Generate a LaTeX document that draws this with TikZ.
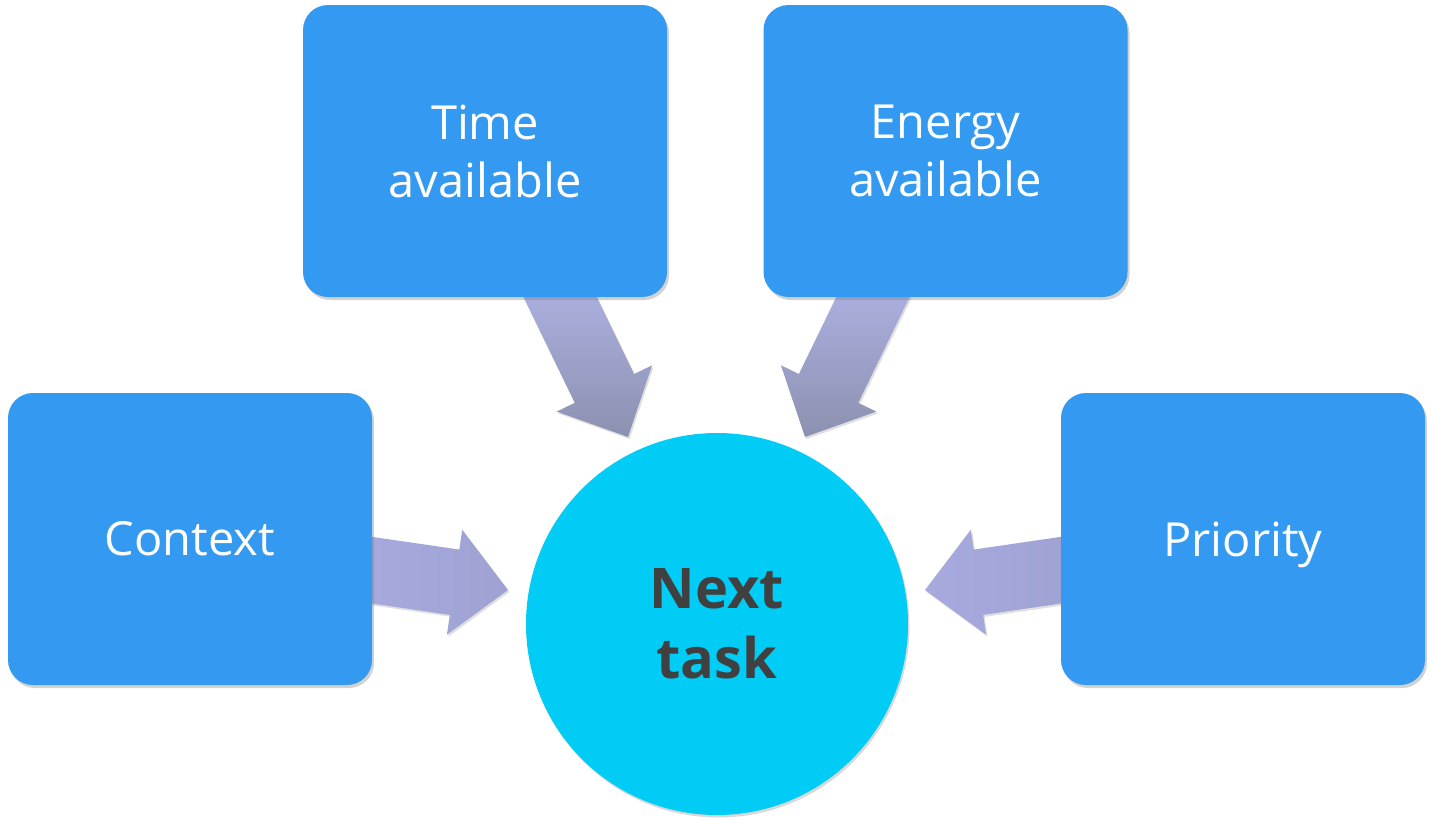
\documentclass[tikz,border=0pt]{standalone}
\usepackage{fontspec}
\setmainfont{Open Sans}
\usetikzlibrary{calc,shadows}
\definecolor{boxblue}{RGB}{52,153,240}
\definecolor{circblue}{RGB}{0,204,245}
\definecolor{txtgray}{RGB}{64,64,64}
\definecolor{arrowtop}{RGB}{176,180,230}
\definecolor{arrowbot}{RGB}{140,145,176}
\definecolor{arrowside}{RGB}{168,170,222}
\definecolor{arrowside2}{RGB}{158,162,210}
\tikzset{
  factor/.style={draw=none, fill=boxblue, rounded corners=25pt,
    minimum width=364pt, minimum height=292pt, text=white, align=center,
    font=\fontsize{47}{58}\selectfont,
    drop shadow={shadow xshift=2pt, shadow yshift=-3pt, opacity=0.35}},
  goal/.style={circle, draw=none, fill=circblue, minimum size=382pt,
    text=txtgray, align=center, font=\bfseries\fontsize{56}{70}\selectfont,
    drop shadow={shadow xshift=1.5pt, shadow yshift=-2.5pt, opacity=0.3}},
  blockarrowtop/.style={top color=arrowtop, bottom color=arrowbot, draw=none,
    drop shadow={shadow xshift=1.5pt, shadow yshift=-2pt, opacity=0.25}},
  blockarrowside/.style={left color=arrowside, right color=arrowside2, draw=none,
    drop shadow={shadow xshift=1.5pt, shadow yshift=-2pt, opacity=0.25}},
}
% arrow polygon from start #1 to tip #2
\newcommand{\blockarrowpath}[2]{%
  ($(#1)!33pt!90:(#2)$) --
  ($($(#2)!54pt!(#1)$)!33pt!90:(#2)$) --
  ($($(#2)!54pt!(#1)$)!53pt!90:(#2)$) --
  (#2) --
  ($($(#2)!54pt!(#1)$)!53pt!-90:(#2)$) --
  ($($(#2)!54pt!(#1)$)!33pt!-90:(#2)$) --
  ($(#1)!33pt!-90:(#2)$) -- cycle}
\begin{document}
\begin{tikzpicture}[x=1pt,y=-1pt]
\useasboundingbox (0,0) rectangle (1433,827);
\fill[white] (0,0) rectangle (1433,827);

% named start / tip points of the connectors
\coordinate (s1) at (552.6,281.7);
\coordinate (t1) at (628,437);
\coordinate (s2) at (880.4,281.7);
\coordinate (t2) at (805,437);
\coordinate (s3) at (357,568);
\coordinate (t3) at (508,590);
\coordinate (s4) at (1076,568);
\coordinate (t4) at (925,590);

% connectors (drawn first, boxes cover their tails)
\path[blockarrowtop] \blockarrowpath{s1}{t1};
\path[blockarrowtop] \blockarrowpath{s2}{t2};
\path[blockarrowside] \blockarrowpath{s3}{t3};
\path[blockarrowside] \blockarrowpath{s4}{t4};

\node[factor] (time) at (485,151) {Time\\available};
\node[factor] (energy) at (945.5,151) {Energy\\available};
\node[factor] (context) at (190,539) {Context};
\node[factor, text depth=0pt] (priority) at (1243,539) {Priority};
\node[goal] (next) at (717,624) {Next\\task};
\end{tikzpicture}
\end{document}
